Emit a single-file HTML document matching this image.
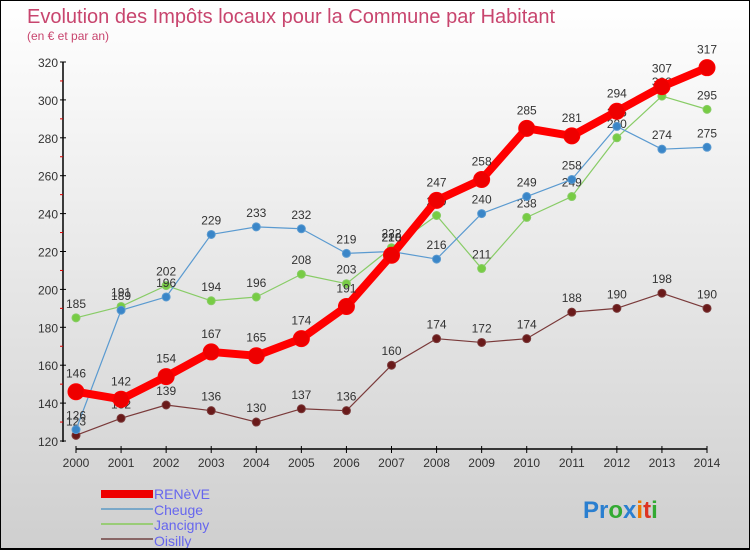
<!DOCTYPE html>
<html><head><meta charset="utf-8"><style>
body{margin:0}
#c{width:750px;height:550px;position:relative;box-sizing:border-box;border:1px solid #000;border-bottom-width:2px;background:linear-gradient(#ffffff,#cfcfcf);font-family:"Liberation Sans",sans-serif;overflow:hidden}
svg text{font-family:"Liberation Sans",sans-serif}
</style></head><body>
<div id="c">
<svg id="s" width="750" height="550">
<text x="26" y="22" font-size="20" fill="#c8456e">Evolution des Impôts locaux pour la Commune par Habitant</text>
<text x="26" y="39" font-size="12" fill="#c8456e">(en € et par an)</text>
<g id="g"></g>
<g>
<rect x="100" y="489" width="52" height="8" fill="#e00"/>
<text x="153" y="498" font-size="14" fill="#6666ee">RENèVE</text>
<rect x="100" y="507" width="52" height="2" fill="#7aa8c8"/>
<text x="153" y="514" font-size="14" fill="#6666ee">Cheuge</text>
<rect x="100" y="522" width="52" height="2" fill="#99cc77"/>
<text x="153" y="529" font-size="14" fill="#6666ee">Jancigny</text>
<rect x="100" y="537" width="52" height="2" fill="#886666"/>
<text x="153" y="545" font-size="14" fill="#6666ee">Oisilly</text>
</g>
<text x="582" y="517" font-size="24" font-weight="bold"><tspan fill="#2a7fd0">Pr</tspan><tspan fill="#33aa33">o</tspan><tspan fill="#2a7fd0">x</tspan><tspan fill="#ee7700">i</tspan><tspan fill="#dd3322">t</tspan><tspan fill="#33aa33">i</tspan></text>
</svg>
</div>
<script>
const years=[2000,2001,2002,2003,2004,2005,2006,2007,2008,2009,2010,2011,2012,2013,2014];
const reneve=[146,142,154,167,165,174,191,218,247,258,285,281,294,307,317];
const cheuge=[126,189,196,229,233,232,219,220,216,240,249,258,286,274,275];
const jancigny=[185,191,202,194,196,208,203,222,239,211,238,249,280,302,295];
const oisilly=[123,132,139,136,130,137,136,160,174,172,174,188,190,198,190];
const yTicks=[120,140,160,180,200,220,240,260,280,300,320];
const NS='http://www.w3.org/2000/svg';
const g=document.getElementById('g');
const X=i=>75+i*(706-75)/14;
const Y=v=>440-(v-120)*(440-61)/200;
function el(t,a,p){const e=document.createElementNS(NS,t);for(const k in a)e.setAttribute(k,a[k]);(p||g).appendChild(e);return e;}
// axes
let ax=el('line',{x1:62,y1:61,x2:62,y2:441,stroke:'#000','stroke-width':1.5});


let bx=el('line',{x1:75,y1:448,x2:706,y2:448,stroke:'#000','stroke-width':1.5});


yTicks.forEach((v,i)=>{
 el('line',{x1:59,y1:Y(v),x2:65,y2:Y(v),stroke:'#000'});
 if(i<yTicks.length-1) el('line',{x1:59,y1:Y(v+10),x2:62,y2:Y(v+10),stroke:'#d00'});
 let t=el('text',{x:57,y:Y(v)+5,'text-anchor':'end','font-size':12,fill:'#333'});
 t.textContent=v;
 
 
});
years.forEach((y,i)=>{
 el('line',{x1:X(i),y1:445,x2:X(i),y2:452,stroke:'#000'});
 let t=el('text',{x:X(i),y:466,'text-anchor':'middle','font-size':12,fill:'#333'});
 t.textContent=y;
 
 
});
function series(data,color,w,r,name,dark){
 const grp=el('g',{});
 
 
 const p=el('polyline',{points:data.map((v,i)=>X(i)+','+Y(v)).join(' '),fill:'none',stroke:color,'stroke-width':w,'stroke-linejoin':'round'},grp);
 
 
 data.forEach((v,i)=>{
  const c=el('circle',{cx:X(i),cy:Y(v),r:r,fill:dark,stroke:color,'stroke-width':1},grp);
  
  
  const t=el('text',{x:X(i),y:Y(v)-r-6,'text-anchor':'middle','font-size':12,fill:'#333'},grp);
  t.textContent=v;
  
  
 });
}
series(oisilly,'#7a3a3a',1.2,4,'oisilly','#6a1a1a');
series(jancigny,'#88cc66',1.2,4,'jancigny','#77cc44');
series(cheuge,'#5a9ad0',1.2,4,'cheuge','#3a86c8');
series(reneve,'#ff0000',8,8,'reneve','#ee0000');
</script>
</body></html>
